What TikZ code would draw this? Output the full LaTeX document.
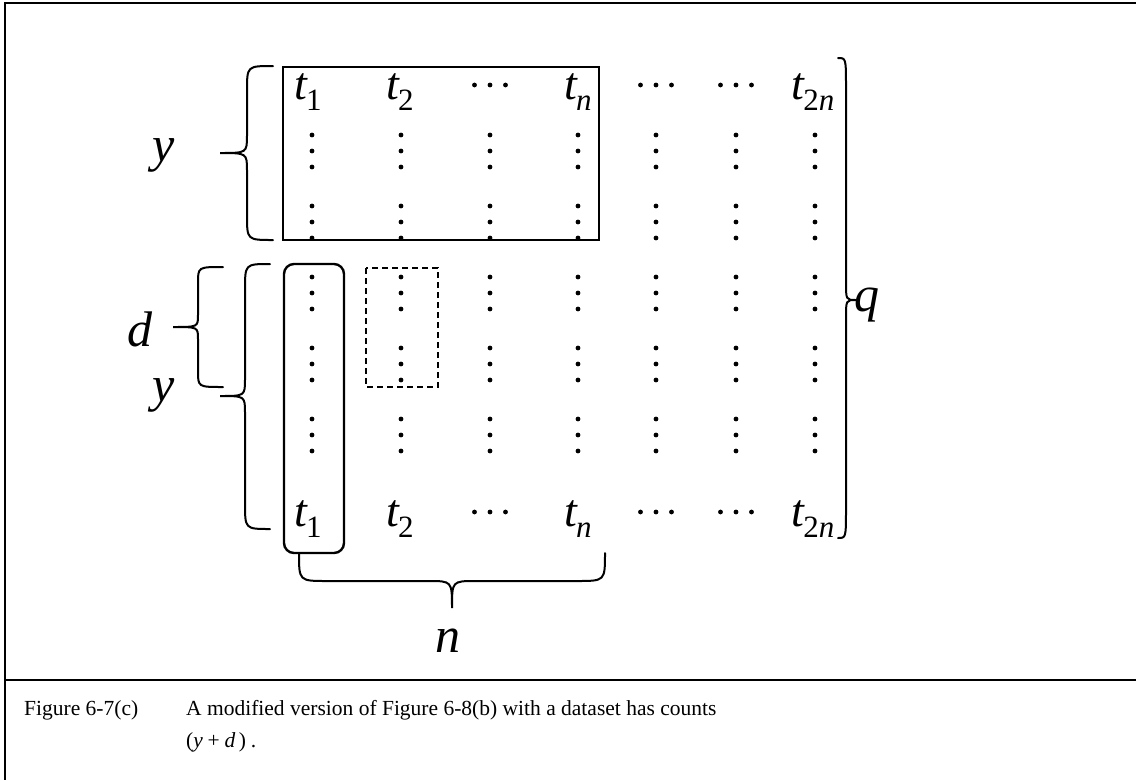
\documentclass[tikz,border=0pt]{standalone}
\usepackage{fontspec}
\setmainfont{Liberation Serif}
% t with a lowered subscript, as in the table headers
\newcommand{\Tsub}[1]{t\kern-1pt\raisebox{-11pt}{\fontsize{31}{31}\selectfont #1}}
\begin{document}
\begin{tikzpicture}[x=1pt,y=-1pt,
  brc/.style={line width=2pt, line cap=round},
  boxline/.style={line width=2.4pt},
  dashline/.style={line width=2pt, dash pattern=on 6pt off 4pt},
  frame/.style={line width=2.2pt},
  mlab/.style={inner sep=0pt, anchor=base, font=\fontsize{50}{60}\selectfont\itshape},
  tlab/.style={inner sep=0pt, anchor=base, font=\fontsize{46}{56}\selectfont\itshape},
  captxt/.style={inner sep=0pt, anchor=base west, font=\fontsize{21.5}{26}\selectfont},
  dotfill/.style={fill=black}
]
\useasboundingbox (0,0) rectangle (1136,780);

% frame and caption divider
\draw[frame] (1136,3) -- (5,3) -- (5,780);
\draw[frame] (5,680) -- (1136,680);

% vertical ellipses in every column
\foreach \cx in {312,401,490,578,656,736,815}{
  \foreach \cy in {151,222,293,364,435}{
    \fill[dotfill] (\cx,\cy-16) circle[radius=2.4pt];
    \fill[dotfill] (\cx,\cy) circle[radius=2.4pt];
    \fill[dotfill] (\cx,\cy+16) circle[radius=2.4pt];
  }
}
% horizontal ellipses in the header rows
\foreach \hx in {490,656,736}{
  \foreach \hy in {85,512}{
    \fill[dotfill] (\hx-15.5,\hy) circle[radius=2.4pt];
    \fill[dotfill] (\hx,\hy) circle[radius=2.4pt];
    \fill[dotfill] (\hx+15.5,\hy) circle[radius=2.4pt];
  }
}

% top header row
\node[tlab] (ta1) at (308,99) {\Tsub{\upshape 1}};
\node[tlab] (ta2) at (400,99) {\Tsub{\upshape 2}};
\node[tlab] (tan) at (578,99) {\Tsub{\itshape n}};
\node[tlab] (ta2n) at (813,99) {\Tsub{\upshape 2\itshape n}};
% bottom header row
\node[tlab] (tb1) at (308,526) {\Tsub{\upshape 1}};
\node[tlab] (tb2) at (400,526) {\Tsub{\upshape 2}};
\node[tlab] (tbn) at (578,526) {\Tsub{\itshape n}};
\node[tlab] (tb2n) at (813,526) {\Tsub{\upshape 2\itshape n}};

% boxes
\draw[boxline] (283,67) rectangle (599,240);
\draw[boxline, rounded corners=10pt] (284,264) rectangle (344,553);
\draw[dashline] (366,268) rectangle (438,387);

% braces
\draw[brc] (273,66) .. controls (247,66) .. (247,91) -- (247,135)
  .. controls (247,153) .. (220,153) .. controls (247,153) .. (247,171)
  -- (247,215) .. controls (247,240) .. (273,240);
\draw[brc] (270,264) .. controls (245,264) .. (245,290) -- (245,379)
  .. controls (245,396) .. (220,396) .. controls (245,396) .. (245,413)
  -- (245,503) .. controls (245,529) .. (270,529);
\draw[brc] (223,267) .. controls (198,267) .. (198,283) -- (198,315)
  .. controls (198,327) .. (173,327) .. controls (198,327) .. (198,339)
  -- (198,371) .. controls (198,387) .. (223,387);
\draw[brc] (838,58) .. controls (846,58) .. (846,88) -- (846,282)
  .. controls (846,300) .. (856,300) .. controls (846,300) .. (846,318)
  -- (846,508) .. controls (846,538) .. (838,538);
\draw[brc] (299,553) .. controls (299,581) .. (327,581) -- (428,581)
  .. controls (452,581) .. (452,608) .. controls (452,581) .. (476,581)
  -- (577,581) .. controls (605,581) .. (605,553);

% brace labels
\node[mlab] (ytop) at (164,161) {y};
\node[mlab] (ybot) at (164,401) {y};
\node[mlab] (dlab) at (140,346) {d};
\node[mlab] (qlab) at (867,311) {q};
\node[mlab] (nlab) at (448,652) {n};

% caption
\node[captxt] (capnum) at (24,715) {Figure 6-7(c)};
\node[captxt] (captext) at (186,715) {A modified version of Figure 6-8(b) with a dataset has counts};
\node[captxt] (capmath) at (186,747) {(\textit{y}\:+\:\textit{d}\,)\:.};
\end{tikzpicture}
\end{document}
